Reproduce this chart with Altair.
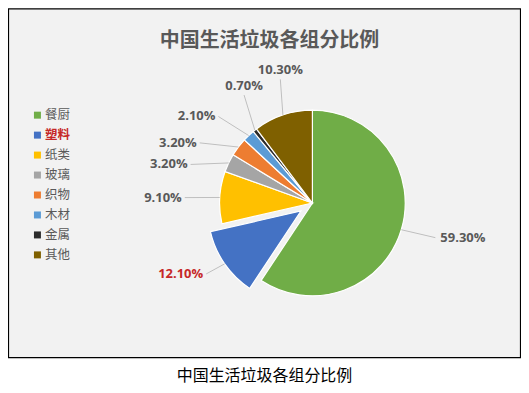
import altair as alt
import pandas as pd

# ---- data ----
categories = ["餐厨", "塑料", "纸类", "玻璃", "织物", "木材", "金属", "其他"]
shares = [59.3, 12.1, 9.1, 3.2, 3.2, 2.1, 0.7, 10.3]
labels = ["59.30%", "12.10%", "9.10%", "3.20%", "3.20%", "2.10%", "0.70%", "10.30%"]
title_text = "中国生活垃圾各组分比例"
caption_text = "中国生活垃圾各组分比例"
highlight = "塑料"

# ---- styles / layout ----
colors = ["#70ad47", "#4472c4", "#ffc000", "#a5a5a5", "#ed7d31", "#5b9bd5", "#2b2b2b", "#7f6000"]
label_shift_deg = [-1, 1, -1, -8, -9, -4, 6, 4]   # nudges for crowded labels
CX, CY, R, EXPLODE, LR = 305, 195, 93, 14, 128
TXT = "#595959"
RED = "#c62828"
W, H = 514, 384

df = pd.DataFrame({
    "cat": categories,
    "share": shares,
    "label": labels,
    "idx": list(range(len(categories))),
    "shift": label_shift_deg,
})

color_scale = alt.Scale(domain=categories, range=colors)

base = (
    alt.Chart(df)
    .transform_window(cum="sum(share)", sort=[alt.SortField("idx")], frame=[None, 0])
    .transform_calculate(start="datum.cum - datum.share")
    .transform_calculate(mid="(datum.cum - datum.share / 2) / 100 * 2 * PI")
    .transform_calculate(ex=f"datum.cat == '{highlight}' ? {EXPLODE} : 0")
    .transform_calculate(acx=f"{CX} + datum.ex * sin(datum.mid)")
    .transform_calculate(acy=f"{CY} - datum.ex * cos(datum.mid)")
    .transform_calculate(exx=f"datum.acx + {R} * sin(datum.mid)")
    .transform_calculate(exy=f"datum.acy - {R} * cos(datum.mid)")
    .transform_calculate(lrad="datum.mid + datum.shift * PI / 180")
    .transform_calculate(lx=f"{CX} + {LR} * sin(datum.lrad)")
    .transform_calculate(ly=f"{CY} - {LR} * cos(datum.lrad)")
    .transform_calculate(ldeg="datum.lrad * 180 / PI")
    .transform_calculate(side="datum.ldeg < 180 ? 'right' : (datum.ldeg < 320 ? 'left' : 'top')")
)

frame = alt.Chart(alt.Data(values=[{"a": 1}])).mark_rect(
    fill="#f2f2f2", stroke="black", strokeWidth=1.2
).encode(x=alt.value(0.5), x2=alt.value(W - 0.5), y=alt.value(0.5), y2=alt.value(350))

arcs = base.mark_arc(outerRadius=R, stroke="#ffffff", strokeWidth=1.2).encode(
    theta=alt.Theta("start:Q", stack=None, scale=alt.Scale(domain=[0, 100])),
    theta2="cum:Q",
    x=alt.X("acx:Q", scale=None),
    y=alt.Y("acy:Q", scale=None),
    color=alt.Color("cat:N", scale=color_scale, legend=None),
)

rules = base.mark_rule(color="#bfbfbf", strokeWidth=1).encode(
    x=alt.X("exx:Q", scale=None),
    y=alt.Y("exy:Q", scale=None),
    x2="lx:Q",
    y2="ly:Q",
)

lab_color = alt.condition(f"datum.cat == '{highlight}'", alt.value(RED), alt.value(TXT))
lab_font = dict(font="Open Sans", fontSize=13, fontWeight="bold")

lab_right = base.transform_filter("datum.side == 'right'").mark_text(
    align="left", baseline="middle", dx=5, **lab_font
).encode(x=alt.X("lx:Q", scale=None), y=alt.Y("ly:Q", scale=None), text="label:N", color=lab_color)

lab_left = base.transform_filter("datum.side == 'left'").mark_text(
    align="right", baseline="middle", dx=-3, **lab_font
).encode(x=alt.X("lx:Q", scale=None), y=alt.Y("ly:Q", scale=None), text="label:N", color=lab_color)

lab_top = base.transform_filter("datum.side == 'top'").mark_text(
    align="center", baseline="bottom", dy=-2, **lab_font
).encode(x=alt.X("lx:Q", scale=None), y=alt.Y("ly:Q", scale=None), text="label:N", color=lab_color)

# ---- manual legend ----
leg = alt.Chart(df).transform_calculate(legy="107 + 20 * datum.idx")
leg_sq = leg.mark_square(size=49, opacity=1).encode(
    x=alt.value(29.5), y=alt.Y("legy:Q", scale=None),
    color=alt.Color("cat:N", scale=color_scale, legend=None),
)
leg_txt = leg.transform_filter(f"datum.cat != '{highlight}'").mark_text(
    align="left", baseline="middle", font="Noto Sans CJK SC", fontSize=12.5, color=TXT
).encode(x=alt.value(37), y=alt.Y("legy:Q", scale=None), text="cat:N")
leg_hi = leg.transform_filter(f"datum.cat == '{highlight}'").mark_text(
    align="left", baseline="middle", font="Noto Sans CJK SC", fontSize=12.5, fontWeight="bold", color=RED
).encode(x=alt.value(37), y=alt.Y("legy:Q", scale=None), text="cat:N")

title = alt.Chart(alt.Data(values=[{"t": title_text}])).mark_text(
    align="center", baseline="middle", font="Noto Sans CJK SC", fontSize=20, fontWeight="bold", color=TXT
).encode(x=alt.value(262), y=alt.value(33), text="t:N")

caption = alt.Chart(alt.Data(values=[{"t": caption_text}])).mark_text(
    align="center", baseline="middle", font="Noto Sans CJK SC", fontSize=16, color="black"
).encode(x=alt.value(257), y=alt.value(368), text="t:N")

chart = (
    alt.layer(frame, arcs, rules, lab_right, lab_left, lab_top, leg_sq, leg_txt, leg_hi, title, caption)
    .properties(width=W, height=H, padding=0, autosize=alt.AutoSizeParams(type="none"), background="white")
    .configure_view(strokeWidth=0)
)

chart.save("out.html", embed_options={"renderer": "svg", "actions": False})
